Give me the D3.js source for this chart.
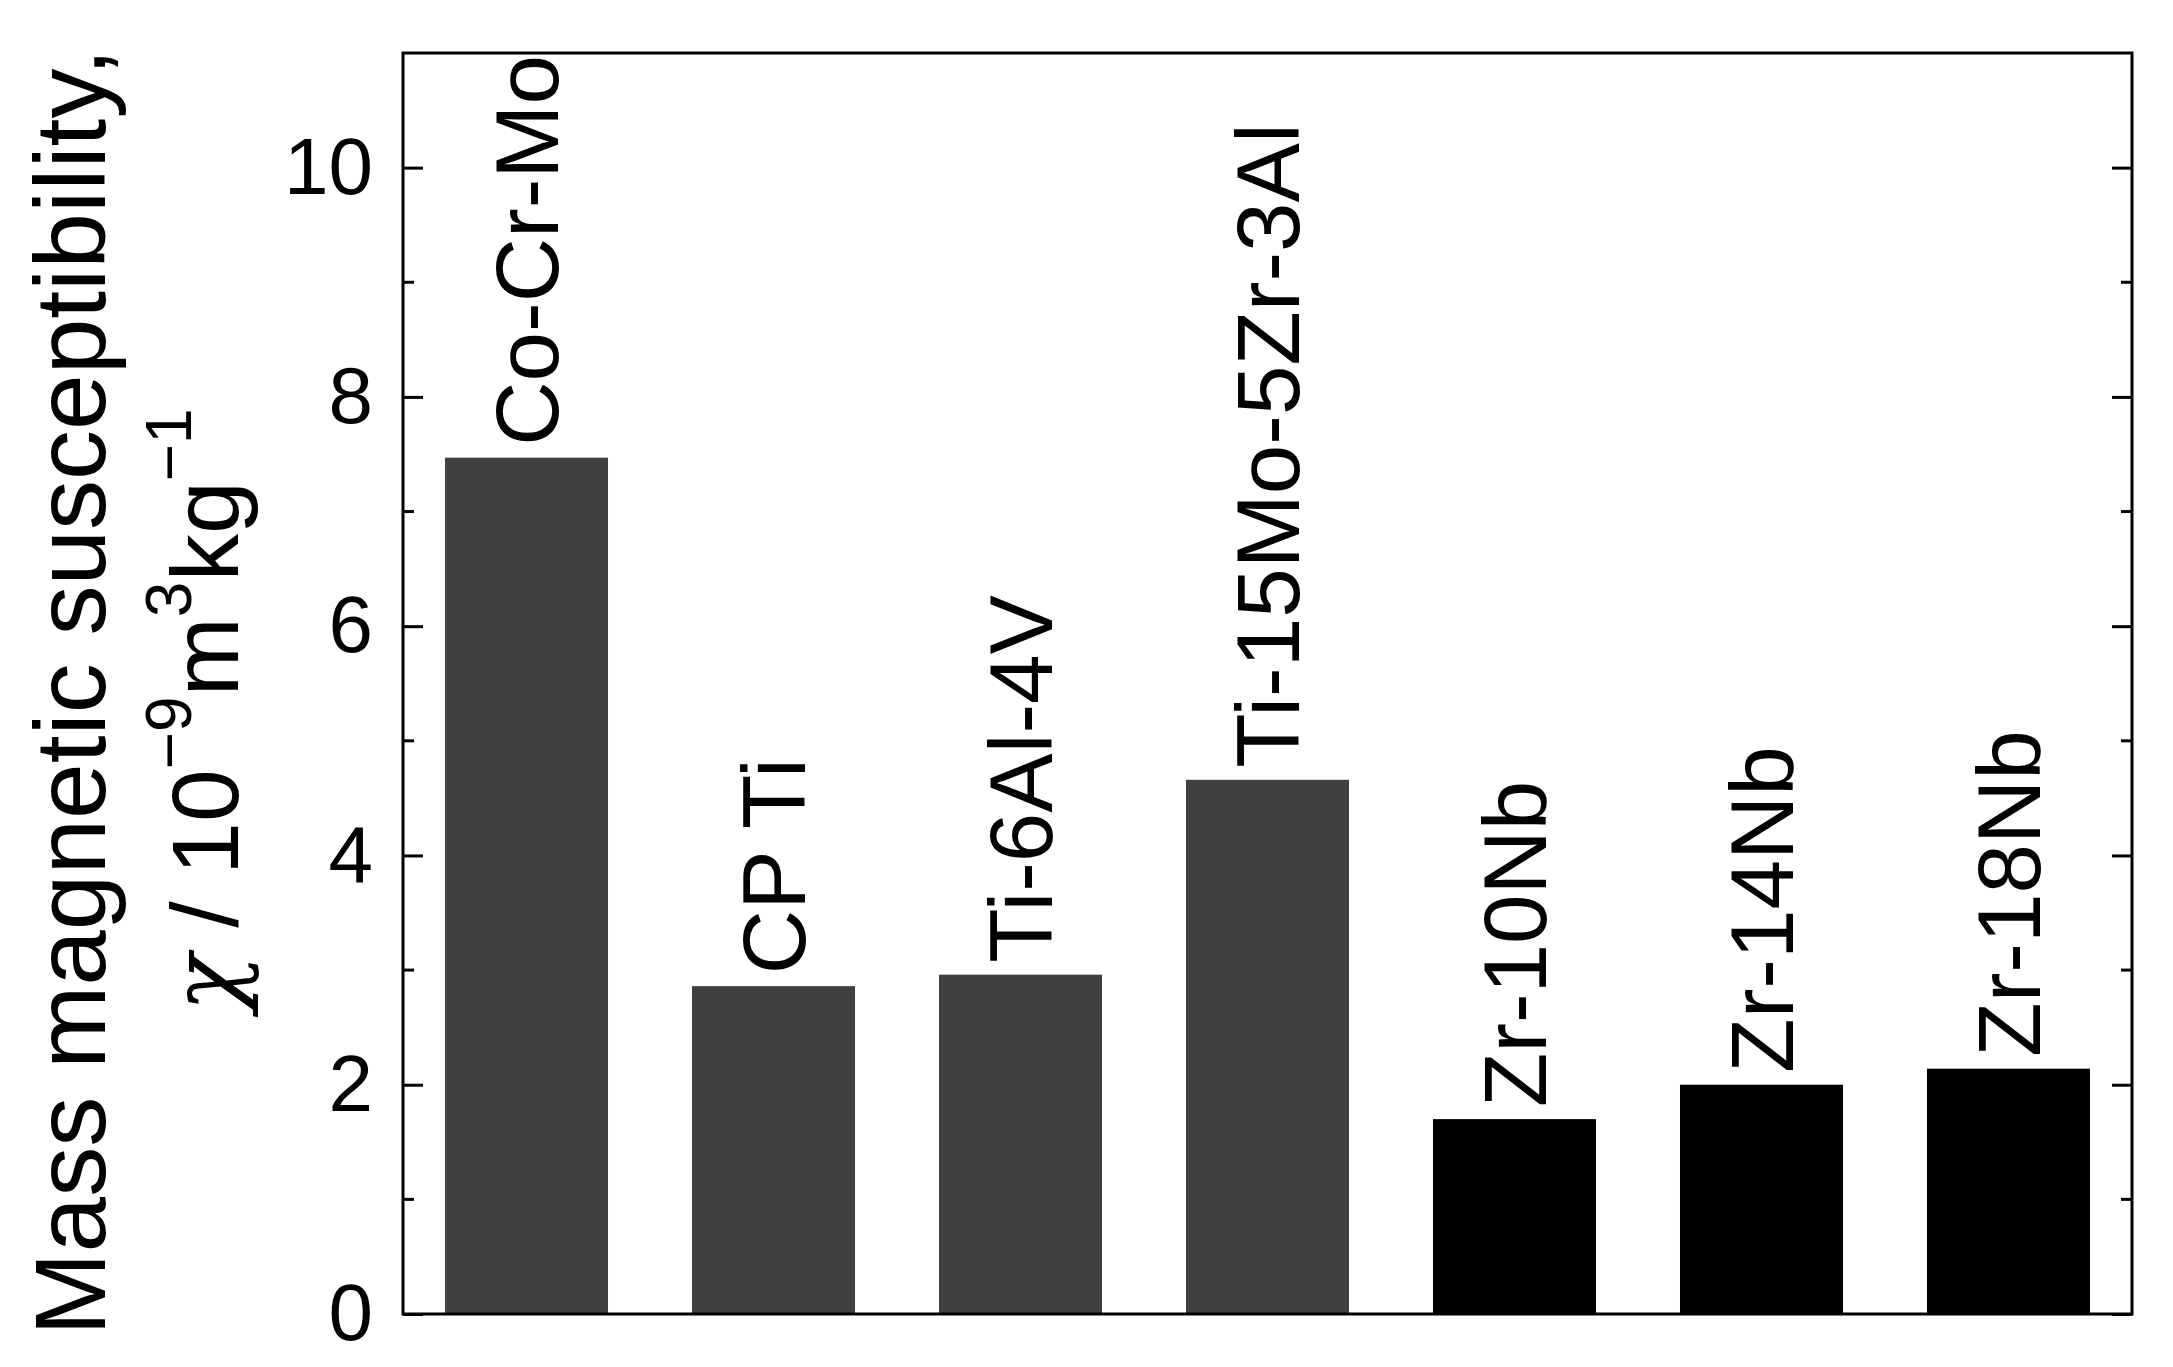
<!DOCTYPE html><html><head><meta charset="utf-8">
<script src="https://cdn.jsdelivr.net/npm/d3@7"></script>
<style>body{margin:0;background:#fff}</style></head><body><svg id="c" width="2173" height="1367"></svg>
<script>
const categories=["Co-Cr-Mo","CP Ti","Ti-6Al-4V","Ti-15Mo-5Zr-3Al","Zr-10Nb","Zr-14Nb","Zr-18Nb"];
const values=[7.47,2.86,2.96,4.66,1.70,2.00,2.14];
const groups=["Ti","Ti","Ti","Ti","Zr","Zr","Zr"];
const majorTicks=[0,2,4,6,8,10];
const minorTicks=[1,3,5,7,9];
const svg=d3.select("#c");
const L=403,R=2132,T=53,B=1314;
const x=d3.scaleBand().domain(categories).range([L,R]).paddingInner(0.34).paddingOuter(0.17);
const y=d3.scaleLinear().domain([0,11]).range([B,T]);
const font="Liberation Sans, Arial, sans-serif";
svg.selectAll("rect.bar").data(categories).join("rect").attr("class","bar")
 .attr("x",d=>x(d)).attr("width",x.bandwidth())
 .attr("y",(d,i)=>y(values[i])).attr("height",(d,i)=>B-y(values[i]))
 .attr("fill",(d,i)=>groups[i]==="Ti"?"#404040":"#000");
svg.selectAll("text.lab").data(categories).join("text")
 .attr("transform",(d,i)=>`translate(${x(d)+x.bandwidth()/2},${y(values[i])-12}) rotate(-90)`)
 .attr("dominant-baseline","central").attr("font-family",font).attr("font-size",89).text(d=>d);
const axL=d3.axisLeft(y).tickValues(majorTicks).tickSize(-20).tickPadding(30).tickFormat(d3.format("d"));
const gl=svg.append("g").attr("transform",`translate(${L},0)`).call(axL);
gl.selectAll("text").attr("font-family",font).attr("font-size",80).attr("fill","#000");
gl.select(".domain").remove();
gl.selectAll("line").attr("stroke","#000").attr("stroke-width",3);
const axR=d3.axisRight(y).tickValues(majorTicks).tickSize(-20).tickFormat("");
const gr=svg.append("g").attr("transform",`translate(${R},0)`).call(axR);
gr.select(".domain").remove();gr.selectAll("line").attr("stroke","#000").attr("stroke-width",3);
[[L,1],[R,-1]].forEach(([px,s])=>{
 svg.selectAll(null).data(minorTicks).join("line").attr("x1",px).attr("x2",px+s*11)
  .attr("y1",d=>y(d)).attr("y2",d=>y(d)).attr("stroke","#000").attr("stroke-width",3);
});
svg.append("rect").attr("x",L).attr("y",T).attr("width",R-L).attr("height",B-T).attr("fill","none").attr("stroke","#000").attr("stroke-width",3);
svg.append("text").attr("transform","translate(70,692) rotate(-90)").attr("text-anchor","middle")
 .attr("dominant-baseline","central").attr("font-family",font).attr("font-size",100).text("Mass magnetic susceptibility,");
const t2=svg.append("text").attr("transform","translate(205,710) rotate(-90)").attr("text-anchor","middle")
 .attr("dominant-baseline","central").attr("font-family",font).attr("font-size",95);
t2.append("tspan").attr("font-style","italic").attr("font-family","DejaVu Serif, serif").text("χ");
t2.append("tspan").text(" / 10");
t2.append("tspan").attr("dy",-36).attr("font-size",64).text("−9");
t2.append("tspan").attr("dy",36).text("m");
t2.append("tspan").attr("dy",-36).attr("font-size",64).text("3");
t2.append("tspan").attr("dy",36).text("kg");
t2.append("tspan").attr("dy",-36).attr("font-size",64).text("−1");
</script></body></html>
